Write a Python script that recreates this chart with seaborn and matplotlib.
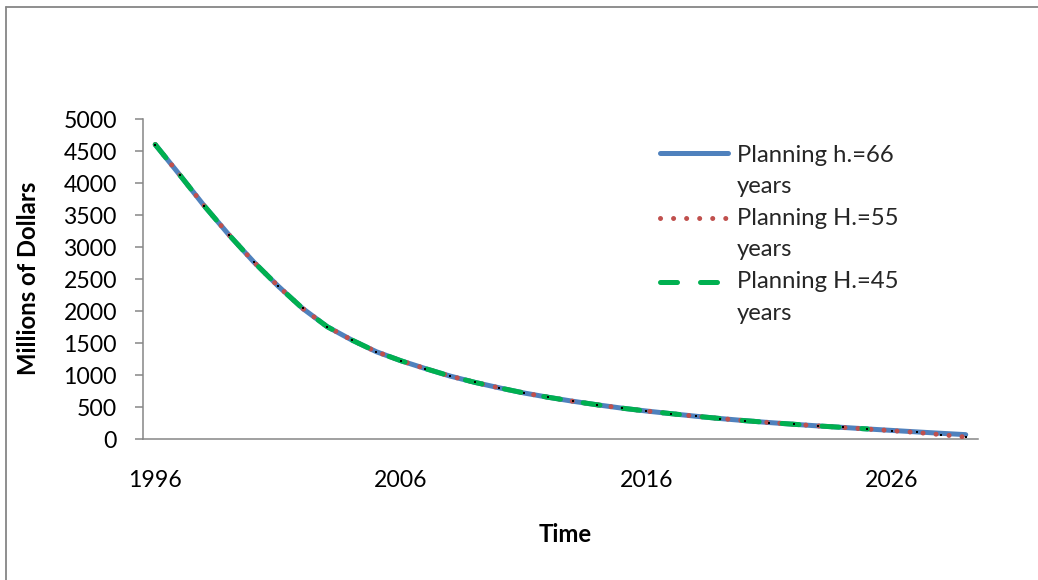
import numpy as np
import pandas as pd
import matplotlib
matplotlib.use("Agg")
import matplotlib.pyplot as plt
import seaborn as sns
from matplotlib.lines import Line2D

# ---------------- data ----------------
years = list(range(1996, 2030))
h66 = [4600, 4125, 3640, 3190, 2770, 2390, 2040, 1755, 1547, 1364,
       1223, 1100, 984, 886, 800, 720, 652, 590, 534, 482,
       437, 396, 356, 320, 287, 257, 230, 204, 181, 157,
       134, 111, 89, 68]
h55 = [4600, 4125, 3640, 3190, 2770, 2390, 2040, 1755, 1547, 1364,
       1223, 1100, 984, 886, 800, 720, 652, 590, 534, 482,
       437, 396, 356, 320, 287, 257, 230, 204, 180, 155,
       130, 102, 68, 30]
years45 = list(range(1996, 2026))
h45 = [4600, 4125, 3640, 3190, 2770, 2390, 2040, 1755, 1547, 1364,
       1223, 1100, 984, 886, 800, 720, 652, 590, 534, 482,
       437, 396, 356, 320, 287, 257, 230, 204, 181, 157]
labels = ["Planning h.=66", "Planning H.=55", "Planning H.=45"]
x_ticks = [1996, 2006, 2016, 2026]
y_ticks = list(range(0, 5001, 500))

# ---------------- style ----------------
sns.set_theme(style="white")
plt.rcParams["font.family"] = ["Lato", "DejaVu Sans"]
GRAY = "#868686"
BLUE = "#4F81BD"
RED = "#C0504D"
GREEN = "#00B050"
FS = 16.6
FS_LEG = 17.2
FS_TITLE = 17.2

W, H = 1038, 580
fig = plt.figure(figsize=(W / 100, H / 100), dpi=100)
fig.patch.set_facecolor("white")
ax = fig.add_axes([143 / W, 1 - 439 / H, (978 - 143) / W, (439 - 119) / H])

df66 = pd.DataFrame({"Year": years, "Value": h66})
df55 = pd.DataFrame({"Year": years, "Value": h55})
df45 = pd.DataFrame({"Year": years45, "Value": h45})

LW = 3.6
sns.lineplot(data=df66, x="Year", y="Value", ax=ax, color=BLUE, lw=LW,
             solid_capstyle="round", zorder=2)
sns.lineplot(data=df55, x="Year", y="Value", ax=ax, color=RED, lw=LW,
             linestyle=(0, (0.01, 2.6)), dash_capstyle="round", zorder=3)
sns.lineplot(data=df45, x="Year", y="Value", ax=ax, color=GREEN, lw=LW,
             linestyle=(0, (3.4, 4.6)), dash_capstyle="round", zorder=4)
# tiny black point markers
sns.scatterplot(data=df55, x="Year", y="Value", ax=ax, color="black",
                marker="s", s=2.0, linewidth=0, zorder=5)

ax.set_xlim(1995.5, 2029.5)
ax.set_ylim(0, 5000)
ax.set_xticks(x_ticks)
ax.set_xticklabels([str(v) for v in x_ticks], fontsize=FS)
ax.set_yticks(y_ticks)
ax.set_yticklabels([str(v) for v in y_ticks], fontsize=FS)
ax.set_xlabel("")
ax.set_ylabel("")
ax.grid(False)
for s in ["top", "right"]:
    ax.spines[s].set_visible(False)
for s in ["left", "bottom"]:
    ax.spines[s].set_color(GRAY)
    ax.spines[s].set_linewidth(1.1)
ax.tick_params(axis="y", direction="out", length=5.8, width=1.1, color=GRAY,
               pad=13, left=True, labelcolor="black")
ax.tick_params(axis="x", length=0, pad=22, labelcolor="black")

# axis titles
fig.text(565 / W, 1 - 534 / H, "Time", ha="center", va="center",
         fontsize=FS_TITLE, fontweight="bold", color="black")
fig.text(29 / W, 1 - 278 / H, "Millions of Dollars", ha="center", va="center",
         rotation=90, fontsize=FS_TITLE, fontweight="bold", color="black")

# legend (Excel style: wrapped labels, handle next to first line)
styles = [dict(color=BLUE, lw=LW, solid_capstyle="round"),
          dict(color=RED, lw=LW, linestyle=(0, (0.01, 2.6)), dash_capstyle="round"),
          dict(color=GREEN, lw=LW, linestyle=(0, (3.4, 4.6)), dash_capstyle="round")]
handle_y = [153, 218, 282]
base1 = [162, 225, 288]
base2 = [193, 256, 320]
for lab, st, hy, b1, b2 in zip(labels, styles, handle_y, base1, base2):
    fig.add_artist(Line2D([660 / W, 728 / W], [1 - hy / H, 1 - hy / H],
                          transform=fig.transFigure, **st))
    fig.text(737 / W, 1 - b1 / H, lab, ha="left", va="baseline", fontsize=FS_LEG)
    fig.text(737 / W, 1 - b2 / H, "years", ha="left", va="baseline", fontsize=FS_LEG)

# chart frame (partially visible)
fig.add_artist(Line2D([5.5 / W, 1.0], [1 - 6.5 / H, 1 - 6.5 / H],
                      transform=fig.transFigure, color=GRAY, lw=1.3))
fig.add_artist(Line2D([5.5 / W, 5.5 / W], [0.0, 1 - 6.5 / H],
                      transform=fig.transFigure, color=GRAY, lw=1.3))

fig.savefig("out.png", dpi=100, facecolor="white")
